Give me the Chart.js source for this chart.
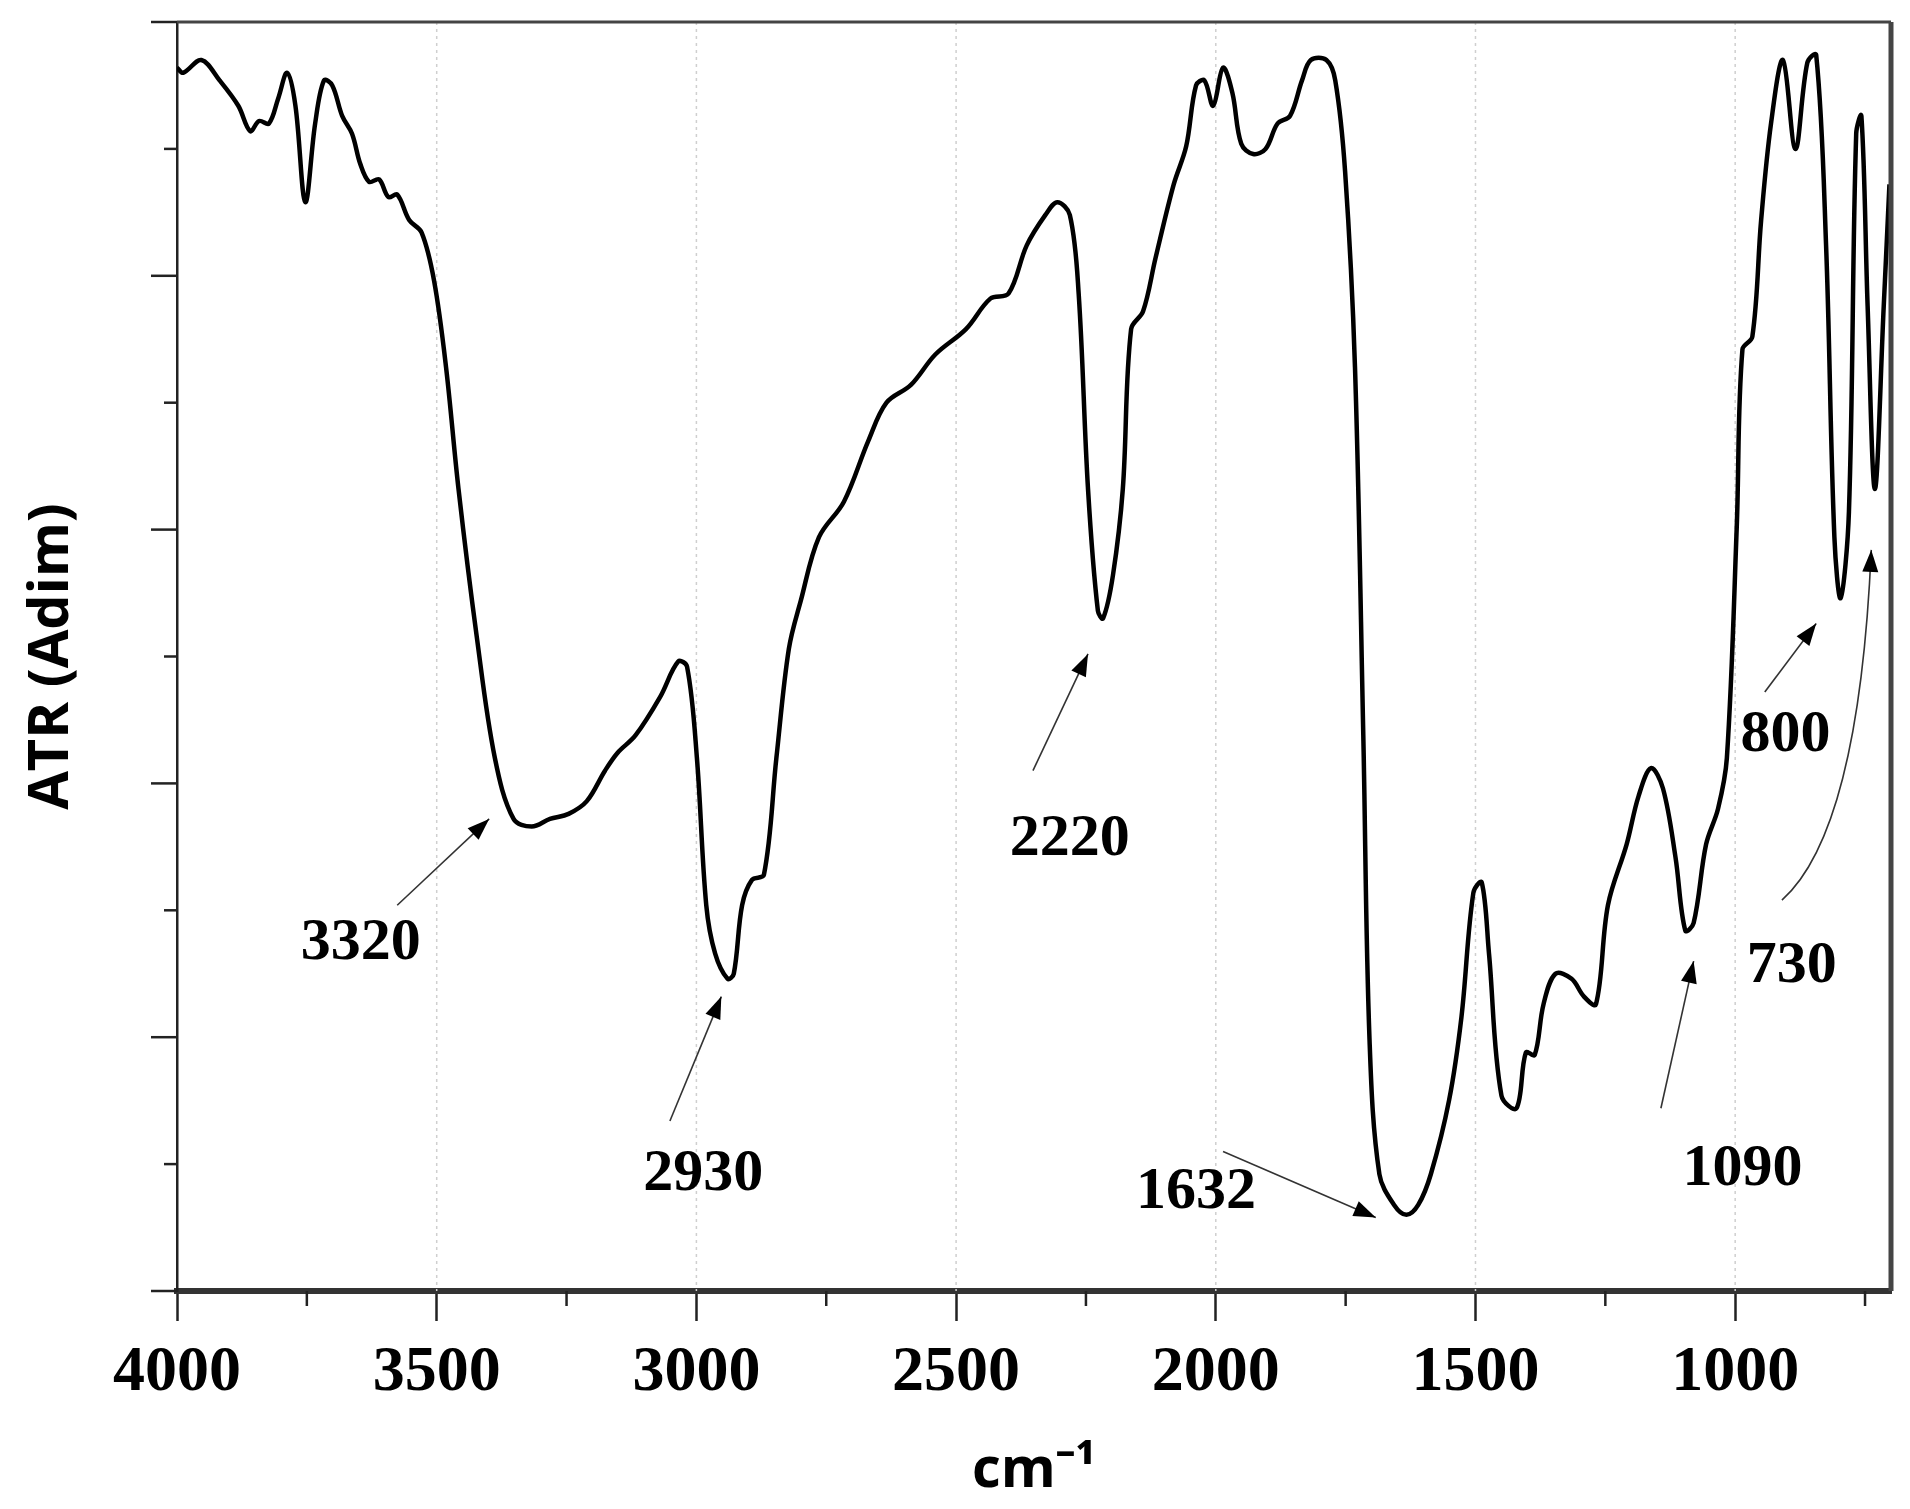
<!DOCTYPE html>
<html><head><meta charset="utf-8">
<script src="https://cdn.jsdelivr.net/npm/chart.js@4"></script>
<style>html,body{margin:0;padding:0;background:#fff}#wrap{width:1910px;height:1509px}</style>
</head><body><div id="wrap"><canvas id="c" width="1910" height="1509"></canvas></div>
<script>
const wavenumbers=[4000,3988,3953,3918,3882,3859,3842,3823,3805,3788,3772,3753,3734,3717,3701,3682,3663,3647,3630,3611,3593,3576,3553,3529,3505,3482,3458,3423,3388,3352,3317,3282,3246,3211,3176,3152,3117,3070,3035,3018,2999,2981,2964,2940,2928,2912,2893,2870,2846,2822,2799,2764,2716,2669,2634,2587,2540,2481,2434,2399,2364,2328,2305,2281,2264,2246,2227,2217,2198,2179,2163,2140,2116,2081,2057,2038,2022,2005,1986,1968,1951,1928,1904,1881,1857,1834,1817,1787,1770,1751,1732,1716,1704,1685,1657,1633,1610,1586,1551,1527,1504,1488,1474,1450,1421,1403,1386,1369,1346,1315,1291,1268,1245,1209,1186,1162,1139,1115,1096,1080,1056,1033,1016,997,986,967,950,931,908,884,861,844,825,809,797,781,767,757,745,731,714,703];
const atr=[4.82,4.80,4.85,4.77,4.67,4.57,4.61,4.60,4.70,4.80,4.67,4.29,4.60,4.77,4.75,4.63,4.56,4.44,4.37,4.38,4.31,4.32,4.22,4.17,3.98,3.64,3.16,2.58,2.10,1.86,1.83,1.86,1.88,1.93,2.05,2.12,2.19,2.34,2.48,2.46,2.10,1.52,1.33,1.23,1.25,1.52,1.62,1.64,2.10,2.53,2.72,2.97,3.11,3.35,3.50,3.57,3.69,3.79,3.91,3.93,4.12,4.24,4.29,4.24,3.93,3.16,2.68,2.65,2.82,3.16,3.79,3.86,4.07,4.36,4.51,4.75,4.77,4.67,4.82,4.72,4.52,4.48,4.50,4.60,4.63,4.77,4.85,4.85,4.77,4.41,3.64,2.19,0.99,0.46,0.34,0.30,0.34,0.46,0.75,1.08,1.57,1.61,1.33,0.77,0.72,0.94,0.93,1.13,1.25,1.23,1.16,1.13,1.52,1.76,1.95,2.06,1.98,1.71,1.42,1.45,1.76,1.90,2.10,3.01,3.71,3.76,4.22,4.60,4.85,4.50,4.84,4.87,4.12,2.97,2.73,3.07,4.56,4.63,3.88,3.16,3.88,4.36];
const xTicks=[4000,3500,3000,2500,2000,1500,1000];
const peakLabels=["3320","2930","2220","1632","1090","800","730"];
const labelPos=[[3646,1.37],[2987,0.46],[2281,1.78],[2038,0.39],[986,0.48],[903,2.19],[891,1.28]];
const arrowFrom=[[3576,1.52],[3051,0.67],[2352,2.05],[1986,0.55],[1143,0.72],[943,2.36],[910,1.54]];
const arrowTo=[[3399,1.86],[2952,1.16],[2246,2.51],[1692,0.29],[1080,1.30],[844,2.63],[738,2.92]];

const deco={id:'deco',
 beforeDatasetsDraw(ch){const c=ch.ctx,a=ch.chartArea,x=ch.scales.x;
  c.save();c.strokeStyle='#cfcfcf';c.lineWidth=1.5;c.setLineDash([3,4]);
  xTicks.slice(1).forEach(v=>{const px=x.getPixelForValue(v);c.beginPath();c.moveTo(px,a.top);c.lineTo(px,a.bottom);c.stroke();});
  c.restore();},
 afterDatasetsDraw(ch){const c=ch.ctx,a=ch.chartArea,x=ch.scales.x,y=ch.scales.y;
  c.save();c.strokeStyle='#444';
  c.lineWidth=3;c.beginPath();c.moveTo(a.left,a.top);c.lineTo(a.right,a.top);c.stroke();
  c.lineWidth=5;c.beginPath();c.moveTo(a.right,a.top);c.lineTo(a.right,a.bottom);c.stroke();
  c.strokeStyle='#222';c.lineWidth=2.5;
  for(let v=0;v<=5.001;v+=0.5){const py=y.getPixelForValue(v);const L=(Math.abs(v-Math.round(v))<0.01)?26:13;c.beginPath();c.moveTo(a.left,py);c.lineTo(a.left-L,py);c.stroke();}
  for(let v=750;v<4000;v+=500){const px=x.getPixelForValue(v);c.beginPath();c.moveTo(px,a.bottom);c.lineTo(px,a.bottom+15);c.stroke();}
  c.strokeStyle='#333';c.fillStyle='#000';c.lineWidth=1.6;
  const P=p=>[x.getPixelForValue(p[0]),y.getPixelForValue(p[1])];
  function head(fx,fy,tx,ty){const ang=Math.atan2(ty-fy,tx-fx),s=22,w=8;c.beginPath();c.moveTo(tx,ty);c.lineTo(tx-s*Math.cos(ang)+w*Math.sin(ang),ty-s*Math.sin(ang)-w*Math.cos(ang));c.lineTo(tx-s*Math.cos(ang)-w*Math.sin(ang),ty-s*Math.sin(ang)+w*Math.cos(ang));c.closePath();c.fill();}
  for(let i=0;i<peakLabels.length;i++){const [fx,fy]=P(arrowFrom[i]),[tx,ty]=P(arrowTo[i]);
   if(i===6){const [cx,cy]=P([762,1.81]);c.beginPath();c.moveTo(fx,fy);c.quadraticCurveTo(cx,cy,tx,ty);c.stroke();head(cx,cy,tx,ty);}
   else{c.beginPath();c.moveTo(fx,fy);c.lineTo(tx,ty);c.stroke();head(fx,fy,tx,ty);}
   const [lx,ly]=P(labelPos[i]);c.font='bold 60px "Liberation Serif"';c.textAlign='center';c.textBaseline='middle';c.fillText(peakLabels[i],lx,ly);}
  c.restore();}};

new Chart(document.getElementById('c'),{type:'line',
 data:{datasets:[{data:wavenumbers.map((w,i)=>({x:w,y:atr[i]})),borderColor:'#000',borderWidth:4.5,pointRadius:0,tension:0.35,fill:false}]},
 options:{responsive:false,animation:false,events:[],
  layout:{padding:{top:22,right:19,left:0,bottom:0}},
  plugins:{legend:{display:false},tooltip:{enabled:false}},
  scales:{
   x:{type:'linear',reverse:true,min:700,max:4000,
    afterBuildTicks:s=>{s.ticks=xTicks.map(v=>({value:v}));},
    afterFit:s=>{s.height=218;},
    grid:{display:true,drawOnChartArea:false,drawTicks:true,tickLength:30,tickWidth:2.5,tickColor:'#222'},
    border:{display:true,color:'#333',width:6},
    ticks:{color:'#000',font:{family:'Liberation Serif',weight:'bold',size:64},padding:14,maxRotation:0,autoSkip:false,callback:v=>String(v)},
    title:{display:true,text:'cm⁻¹',color:'#000',font:{family:'Open Sans',weight:'bold',size:56},padding:{top:4,bottom:4}}},
   y:{min:0,max:5,afterFit:s=>{s.width=177;},
    grid:{display:false},border:{display:true,color:'#222',width:2.5},ticks:{display:false},
    title:{display:true,text:'ATR (Adim)',color:'#000',font:{family:'Open Sans',weight:'bold',size:56},padding:{top:18,bottom:0}}}}},
 plugins:[deco]});
</script></body></html>
